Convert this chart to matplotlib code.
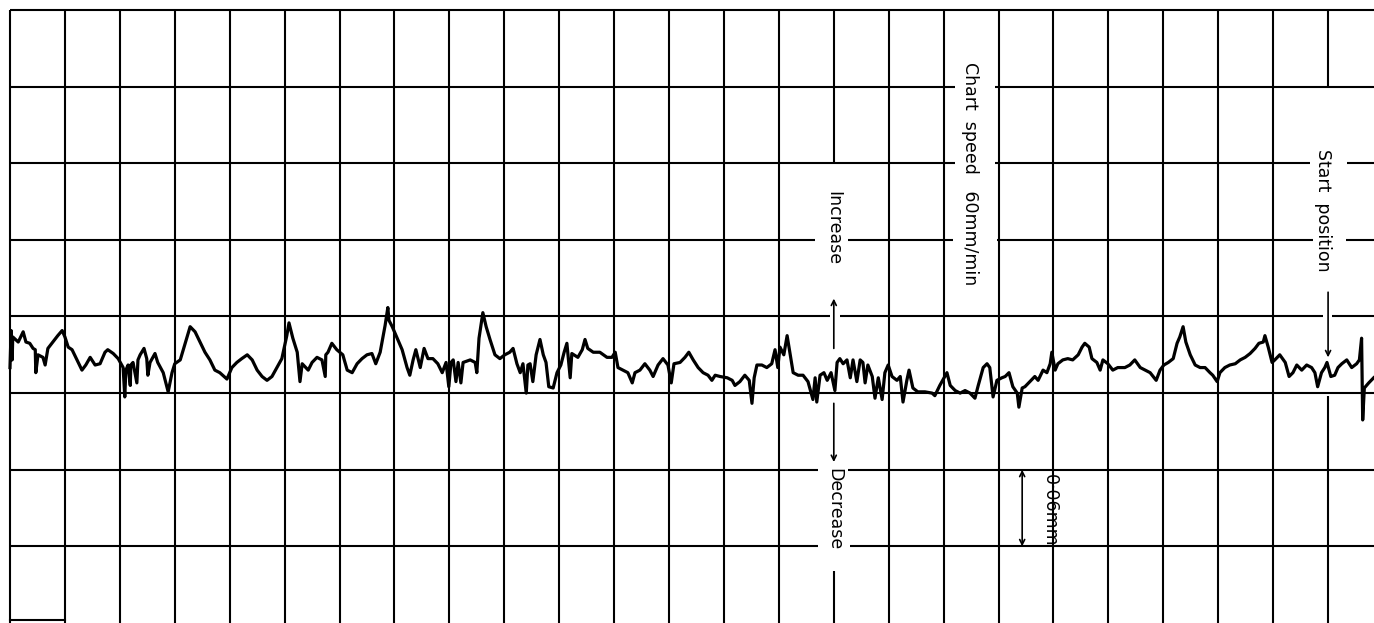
import matplotlib.pyplot as plt
import numpy as np

# Recorder trace: chart position (grid divisions) and displacement (micrometres)
pos = [0.00, 0.02, 0.04, 0.05, 0.15, 0.24, 0.29, 0.36, 0.42, 0.46, 0.47, 0.51, 0.60, 0.64, 0.69,
       0.78, 0.87, 0.95, 1.00, 1.06, 1.13, 1.22, 1.31, 1.38, 1.46, 1.55, 1.64, 1.73, 1.78, 1.88,
       1.97, 2.06, 2.09, 2.11, 2.15, 2.19, 2.20, 2.24, 2.31, 2.33, 2.37, 2.44, 2.49, 2.51, 2.55,
       2.64, 2.69, 2.79, 2.88, 2.95, 3.00, 3.10, 3.19, 3.28, 3.37, 3.46, 3.55, 3.64, 3.73, 3.82,
       3.95, 4.04, 4.13, 4.22, 4.32, 4.41, 4.50, 4.59, 4.68, 4.77, 4.86, 4.95, 5.04, 5.08, 5.15,
       5.23, 5.28, 5.32, 5.43, 5.50, 5.59, 5.68, 5.74, 5.75, 5.79, 5.86, 5.95, 6.06, 6.14, 6.23,
       6.32, 6.41, 6.50, 6.59, 6.66, 6.74, 6.83, 6.88, 6.90, 6.96, 7.05, 7.14, 7.23, 7.28, 7.34,
       7.39, 7.47, 7.54, 7.61, 7.70, 7.79, 7.87, 7.94, 7.99, 8.03, 8.07, 8.12, 8.16, 8.21, 8.25,
       8.38, 8.47, 8.50, 8.54, 8.61, 8.67, 8.74, 8.83, 8.92, 9.01, 9.10, 9.16, 9.23, 9.29, 9.34,
       9.40, 9.43, 9.47, 9.52, 9.58, 9.65, 9.71, 9.76, 9.81, 9.89, 9.96, 10.03, 10.09, 10.14, 10.20,
       10.23, 10.34, 10.42, 10.47, 10.52, 10.62, 10.74, 10.87, 10.96, 11.02, 11.07, 11.16, 11.25, 11.33, 11.38,
       11.47, 11.56, 11.65, 11.71, 11.80, 11.89, 11.98, 12.04, 12.09, 12.20, 12.29, 12.36, 12.44, 12.53, 12.62,
       12.71, 12.78, 12.84, 12.93, 13.06, 13.15, 13.20, 13.29, 13.38, 13.46, 13.51, 13.55, 13.60, 13.69, 13.78,
       13.87, 13.93, 13.98, 14.02, 14.09, 14.15, 14.20, 14.26, 14.35, 14.44, 14.53, 14.62, 14.66, 14.69, 14.75,
       14.82, 14.88, 14.95, 15.02, 15.06, 15.11, 15.17, 15.24, 15.30, 15.35, 15.42, 15.48, 15.53, 15.57, 15.62,
       15.70, 15.75, 15.81, 15.88, 15.93, 15.99, 16.06, 16.15, 16.21, 16.26, 16.33, 16.37, 16.44, 16.53, 16.66,
       16.79, 16.84, 16.93, 17.02, 17.06, 17.12, 17.21, 17.30, 17.39, 17.48, 17.57, 17.63, 17.72, 17.79, 17.84,
       17.90, 17.97, 18.06, 18.12, 18.19, 18.26, 18.34, 18.37, 18.43, 18.48, 18.57, 18.66, 18.72, 18.81, 18.88,
       18.94, 18.97, 19.03, 19.08, 19.17, 19.26, 19.35, 19.45, 19.52, 19.57, 19.65, 19.70, 19.79, 19.85, 19.90,
       19.99, 20.08, 20.17, 20.30, 20.39, 20.48, 20.58, 20.67, 20.76, 20.87, 20.94, 21.01, 21.09, 21.18, 21.25,
       21.30, 21.36, 21.41, 21.49, 21.58, 21.67, 21.76, 21.85, 21.90, 21.98, 22.03, 22.12, 22.21, 22.31, 22.40,
       22.49, 22.58, 22.67, 22.74, 22.82, 22.85, 22.91, 22.98, 23.03, 23.12, 23.22, 23.29, 23.36, 23.43, 23.52,
       23.61, 23.70, 23.76, 23.81, 23.88, 23.94, 23.98, 24.05, 24.12, 24.18, 24.25, 24.34, 24.43, 24.52, 24.57,
       24.61, 24.63, 24.66, 24.74, 24.83]
disp = [20, 49, 26, 44, 40, 48, 40, 39, 35, 34, 16, 30, 28, 22, 35,
        40, 45, 49, 44, 36, 34, 26, 18, 22, 28, 22, 23, 32, 34, 31,
        27, 20, -3, 18, 22, 6, 22, 24, 8, 26, 30, 35, 27, 14, 24,
        31, 24, 16, 1, 16, 23, 26, 39, 52, 48, 40, 32, 26, 18, 16,
        11, 20, 24, 27, 30, 26, 18, 13, 10, 13, 20, 27, 45, 55, 43,
        32, 9, 23, 18, 24, 28, 26, 13, 30, 32, 39, 34, 30, 18, 16,
        23, 27, 30, 31, 23, 32, 53, 67, 57, 52, 43, 34, 20, 14, 26,
        34, 20, 35, 27, 27, 23, 16, 24, 5, 24, 26, 9, 24, 8, 24,
        26, 24, 16, 43, 63, 52, 42, 30, 27, 30, 32, 35, 23, 16, 23,
        0, 22, 23, 9, 30, 42, 30, 24, 5, 4, 16, 22, 32, 39, 12,
        31, 28, 34, 42, 35, 32, 32, 28, 28, 32, 20, 18, 16, 8, 16,
        18, 23, 18, 13, 22, 27, 22, 8, 23, 24, 28, 32, 26, 20, 16,
        14, 10, 14, 13, 12, 10, 6, 9, 14, 10, -8, 12, 22, 22, 20,
        23, 34, 20, 36, 30, 45, 32, 16, 14, 14, 9, -5, 12, -7, 14,
        16, 10, 16, 2, 24, 27, 23, 26, 12, 26, 9, 26, 24, 8, 22,
        13, -4, 12, -5, 16, 22, 13, 10, 13, -7, 10, 18, 4, 1, 1,
        0, -2, 6, 13, 16, 6, 2, 0, 2, 0, -4, 6, 20, 23, 20,
        -3, 10, 12, 13, 16, 5, 0, -11, 4, 5, 9, 13, 10, 18, 16,
        23, 32, 18, 23, 26, 27, 26, 30, 36, 39, 36, 27, 24, 18, 26,
        23, 18, 20, 20, 22, 26, 20, 18, 16, 10, 18, 22, 24, 27, 39,
        44, 52, 40, 30, 22, 20, 20, 16, 14, 9, 16, 20, 22, 23, 26,
        28, 31, 35, 39, 40, 45, 36, 24, 26, 30, 24, 13, 16, 22, 18,
        22, 20, 16, 5, 16, 20, 24, 13, 14, 20, 23, 26, 20, 23, 26,
        43, -21, 4, 8, 12]

# chart grid: one column per division, one row = 0.06 mm
cols = np.arange(0, 25)
rows = [300, 240, 180, 120, 60, 0, -60, -120]

# gaps left in the ruled lines around the hand lettering (row -> list of (x0, x1))
row_gaps = {240: [(17.21, 17.94)],
            180: [(17.21, 17.94), (23.67, 24.34)],
            120: [(14.66, 15.26), (17.17, 17.97), (23.72, 24.32)],
            60: [(14.93, 15.11), (23.90, 24.07)],
            -60: [(14.71, 15.26)],
            -120: [(14.71, 15.30)]}
col_spans = {15: [(180, 300), (-180, -139)],
             24: [(240, 300), (-180, -2)]}

xmin, xmax = -0.182, 24.836
ymin, ymax = -180, 307.8

fig = plt.figure(figsize=(13.74, 6.23), dpi=100)
ax = fig.add_axes([0, 0, 1, 1])
ax.set_xlim(xmin, xmax)
ax.set_ylim(ymin, ymax)
ax.axis('off')

glw = 1.5
for c in cols:
    for y0, y1 in col_spans.get(c, [(ymin, 300)]):
        ax.plot([c, c], [y0, y1], color='black', lw=glw, solid_capstyle='butt')

for r in rows:
    edges = [0]
    for g0, g1 in row_gaps.get(r, []):
        edges += [g0, g1]
    edges.append(xmax)
    for i in range(0, len(edges), 2):
        ax.plot([edges[i], edges[i+1]], [r, r], color='black', lw=glw, solid_capstyle='butt')

# short stub of the bottom rule at the left
ax.plot([0, 1], [-178, -178], color='black', lw=glw)

ax.plot(pos, disp, color='black', lw=2.3, solid_joinstyle='round')

txt = dict(rotation=-90, ha='center', va='center', fontsize=12.5, color='black',
           family='DejaVu Sans')
ax.text(14.99, 129, 'Increase', **txt)
ax.text(15.00, -91, 'Decrease', **txt)
ax.text(17.48, 172, 'Chart  speed   60mm/min', **txt)
ax.text(23.91, 143, 'Start  position', **txt)
ax.text(18.94, -92, '0·06mm', **txt)

arr = dict(arrowstyle='->', lw=1.2, color='black', shrinkA=0, shrinkB=0, mutation_scale=9)
ax.annotate('', xy=(15.0, 74), xytext=(15.0, 35), arrowprops=arr)
ax.annotate('', xy=(15.0, -54), xytext=(15.0, -8), arrowprops=arr)
ax.annotate('', xy=(24.0, 28), xytext=(24.0, 79), arrowprops=arr)
ax.annotate('', xy=(18.43, -120), xytext=(18.43, -60),
            arrowprops=dict(arr, arrowstyle='<->'))

fig.savefig('out.png', dpi=100)
